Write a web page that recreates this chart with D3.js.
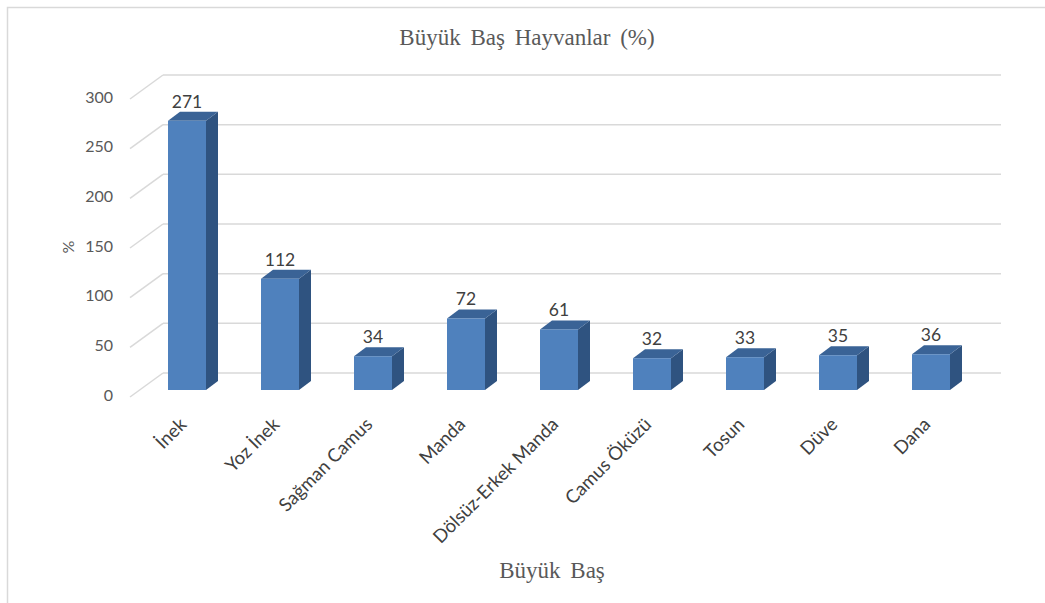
<!DOCTYPE html>
<html>
<head>
<meta charset="utf-8">
<script src="https://cdn.jsdelivr.net/npm/d3@7"></script>
<style>
  body { margin: 0; background: #fff; }
  .grid { stroke: #d9d9d9; stroke-width: 1.5; fill: none; }
  .tick-label { font-family: Lato, "Open Sans", sans-serif; font-size: 16px; fill: #595959; }
  .cat-label { font-family: Lato, "Open Sans", sans-serif; font-size: 18.5px; fill: #404040; }
  .val-label { font-family: Lato, "Open Sans", sans-serif; font-size: 17.5px; fill: #404040; }
  .serif { font-family: "Liberation Serif", "DejaVu Serif", serif; fill: #595959; }
</style>
</head>
<body>
<div id="chart"></div>
<script>
var categories = ["İnek", "Yoz İnek", "Sağman Camus", "Manda", "Dölsüz-Erkek Manda", "Camus Öküzü", "Tosun", "Düve", "Dana"];
var values = [271, 112, 34, 72, 61, 32, 33, 35, 36];
var yTicks = [0, 50, 100, 150, 200, 250, 300];

var W = 1045, H = 603;

var svg = d3.select("#chart")
    .append("svg")
    .attr("width", W)
    .attr("height", H);

// outer chart border
svg.append("rect")
    .attr("x", 7.5)
    .attr("y", 7.5)
    .attr("width", W + 20)
    .attr("height", H + 20)
    .attr("fill", "#fff")
    .attr("stroke", "#d9d9d9")
    .attr("stroke-width", 1.5);

// back wall scale
var y = d3.scaleLinear().domain([0, 300]).range([373, 75]);
var x = d3.scalePoint().domain(categories).range([187, 931]);

var wallLeft = 163, wallRight = 1001;
var sideDx = -33, sideDy = 24;       // left wall front edge offset
var barW = 38, depthDx = 12, depthDy = -9, barFront = 17;

// back wall gridlines
svg.selectAll(".hgrid")
    .data(yTicks)
  .enter().append("line")
    .attr("class", "grid")
    .attr("x1", wallLeft)
    .attr("x2", wallRight)
    .attr("y1", function (d) { return y(d); })
    .attr("y2", function (d) { return y(d); });

// left wall gridlines
svg.selectAll(".dgrid")
    .data(yTicks)
  .enter().append("line")
    .attr("class", "grid")
    .attr("x1", wallLeft + sideDx)
    .attr("x2", wallLeft)
    .attr("y1", function (d) { return y(d) + sideDy; })
    .attr("y2", function (d) { return y(d); });

// y tick labels
svg.selectAll(".tick-label")
    .data(yTicks)
  .enter().append("text")
    .attr("class", "tick-label")
    .attr("x", 113)
    .attr("y", function (d) { return y(d) + sideDy - 2; })
    .attr("dy", "0.35em")
    .attr("text-anchor", "end")
    .text(function (d) { return d; });

// bars
var bars = svg.selectAll(".bar")
    .data(values)
  .enter().append("g")
    .attr("class", "bar");

function x0(d, i) { return x(categories[i]) - barW / 2; }
function yTop(d) { return y(d) + barFront; }
var yBase = y(0) + barFront;

// side face
bars.append("path")
    .attr("fill", "#2f5380")
    .attr("d", function (d, i) {
        var xr = x0(d, i) + barW;
        return "M" + xr + "," + yTop(d) +
            "L" + (xr + depthDx) + "," + (yTop(d) + depthDy) +
            "L" + (xr + depthDx) + "," + (yBase + depthDy) +
            "L" + xr + "," + yBase + "Z";
    });

// top face
bars.append("path")
    .attr("fill", "#3a6396")
    .attr("d", function (d, i) {
        var xl = x0(d, i), t = yTop(d);
        return "M" + xl + "," + t +
            "L" + (xl + depthDx) + "," + (t + depthDy) +
            "L" + (xl + barW + depthDx) + "," + (t + depthDy) +
            "L" + (xl + barW) + "," + t + "Z";
    });

// front face
bars.append("rect")
    .attr("fill", "#4f81bd")
    .attr("x", x0)
    .attr("y", yTop)
    .attr("width", barW)
    .attr("height", function (d) { return yBase - yTop(d); });

// value labels
bars.append("text")
    .attr("class", "val-label")
    .attr("x", function (d, i) { return x(categories[i]); })
    .attr("y", function (d) { return yTop(d) - 13; })
    .attr("text-anchor", "middle")
    .text(function (d) { return d; });

// category labels
svg.selectAll(".cat-label")
    .data(categories)
  .enter().append("text")
    .attr("class", "cat-label")
    .attr("text-anchor", "end")
    .attr("transform", function (d) { return "translate(" + (x(d) - 4) + ",421) rotate(-45)"; })
    .attr("dy", "0.35em")
    .text(function (d) { return d; });

// title
svg.append("text")
    .attr("class", "serif")
    .attr("x", 527)
    .attr("y", 45)
    .attr("text-anchor", "middle")
    .attr("font-size", 23)
    .style("word-spacing", "4px")
    .text("Büyük Baş Hayvanlar (%)");

// x axis title
svg.append("text")
    .attr("class", "serif")
    .attr("x", 552)
    .attr("y", 578)
    .attr("text-anchor", "middle")
    .attr("font-size", 23)
    .style("word-spacing", "4px")
    .text("Büyük Baş");

// y axis title
svg.append("text")
    .attr("class", "tick-label")
    .attr("transform", "translate(68,247) rotate(-90)")
    .attr("text-anchor", "middle")
    .attr("dy", "0.35em")
    .attr("font-size", 15)
    .text("%");
</script>
</body>
</html>
